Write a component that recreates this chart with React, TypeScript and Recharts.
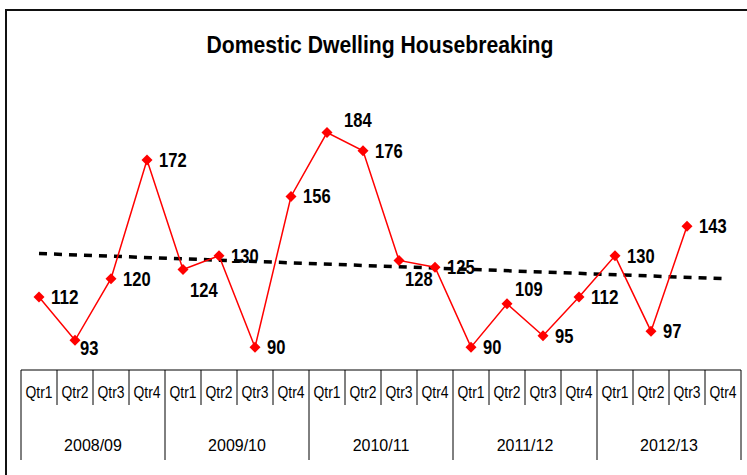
import { LineChart, Line, XAxis, YAxis, LabelList } from 'recharts';

const years = ['2008/09', '2009/10', '2010/11', '2011/12', '2012/13'];
const quarters = ['Qtr1', 'Qtr2', 'Qtr3', 'Qtr4'];

// recorded housebreakings per quarter (last quarter not yet reported)
const housebreakings = [
  112, 93, 120, 172,
  124, 130, 90, 156,
  184, 176, 128, 125,
  90, 109, 95, 112,
  130, 97, 143, null,
];

// linear trend, read at both ends
const trendStart = 131;
const trendEnd = 120;

const chartData = years.flatMap((year, yi) =>
  quarters.map((qtr, qi) => {
    const i = yi * 4 + qi;
    return {
      key: `${year}-${qtr}`,
      qtr,
      year,
      value: housebreakings[i],
      trend: i === 0 ? trendStart : i === years.length * 4 - 1 ? trendEnd : null,
    };
  })
);

// label nudges where the labels were moved by hand
const labelNudge: Record<number, [number, number]> = {
  1: [5, 8],
  4: [7, 20],
  8: [17, -13],
  10: [6, 19],
  13: [8, -15],
};

const arial = '"Liberation Sans", Arial, sans-serif';

function Diamond(props: any) {
  const { cx, cy, index } = props;
  if (cx == null || cy == null || props.value == null) return <g key={index} />;
  const r = 5.5;
  return (
    <polygon
      key={index}
      points={`${cx},${cy - r} ${cx + r},${cy} ${cx},${cy + r} ${cx - r},${cy}`}
      fill="#FF0000"
    />
  );
}

function ValueLabel(props: any) {
  const { x, y, value, index } = props;
  if (value == null) return null;
  const [dx, dy] = labelNudge[index] ?? [12, 0];
  const txt = String(value);
  return (
    <text
      x={x + dx}
      y={y + dy}
      dominantBaseline="central"
      fontFamily={arial}
      fontWeight="bold"
      fontSize={20}
      textLength={txt.length * 9.2}
      lengthAdjust="spacingAndGlyphs"
      fill="#000"
    >
      {txt}
    </text>
  );
}

function CategoryTick(props: any) {
  const { x, y, payload } = props;
  const i = payload.index ?? props.index;
  const half = 18;
  const row = chartData[i];
  const last = i === chartData.length - 1;
  return (
    <g>
      <line
        x1={x - half}
        x2={x - half}
        y1={y}
        y2={i % 4 === 0 ? y + 90 : y + 35}
        stroke="#000"
        strokeWidth={1}
      />
      {last && (
        <line x1={x + half} x2={x + half} y1={y} y2={y + 90} stroke="#000" strokeWidth={1} />
      )}
      <text
        x={x - 13.5}
        y={y + 22}
        dominantBaseline="central"
        fontFamily={arial}
        fontSize={17}
        textLength={27}
        lengthAdjust="spacingAndGlyphs"
        fill="#000"
      >
        {row.qtr}
      </text>
      {i % 4 === 1 && (
        <text
          x={x + half}
          y={y + 75}
          textAnchor="middle"
          dominantBaseline="central"
          fontFamily={arial}
          fontSize={16}
          fill="#000"
        >
          {row.year}
        </text>
      )}
    </g>
  );
}

export default function App() {
  return (
    <div
      style={{
        position: 'absolute',
        left: 0,
        top: 0,
        width: 747,
        height: 475,
        overflow: 'hidden',
        background: '#fff',
      }}
    >
      <div
        style={{
          position: 'absolute',
          left: 5,
          top: 9,
          width: 800,
          height: 600,
          border: '2.5px solid #111',
          boxSizing: 'border-box',
        }}
      />
      <div
        style={{
          position: 'absolute',
          left: 0,
          top: 30,
          width: 760,
          textAlign: 'center',
          fontFamily: arial,
          fontWeight: 'bold',
          fontSize: 23,
          lineHeight: '30px',
          transform: 'scaleX(0.92)',
          color: '#000',
        }}
      >
        Domestic Dwelling Housebreaking
      </div>
      <div style={{ position: 'absolute', left: 0, top: 0 }}>
        <LineChart
          width={747}
          height={475}
          data={chartData}
          margin={{ top: 96, right: 6, bottom: 0, left: 21 }}
        >
          <XAxis
            dataKey="key"
            height={105}
            interval={0}
            padding={{ left: 18, right: 18 }}
            tickLine={false}
            tickSize={0}
            tickMargin={0}
            axisLine={{ stroke: '#000', strokeWidth: 1 }}
            tick={<CategoryTick />}
          />
          <YAxis hide domain={[80, 200]} />
          <Line
            dataKey="trend"
            stroke="#000"
            strokeWidth={3.5}
            strokeDasharray="8 7"
            dot={false}
            connectNulls
            isAnimationActive={false}
          />
          <Line
            dataKey="value"
            stroke="#FF0000"
            strokeWidth={1.5}
            dot={<Diamond />}
            activeDot={false}
            isAnimationActive={false}
          >
            <LabelList dataKey="value" content={<ValueLabel />} />
          </Line>
        </LineChart>
      </div>
    </div>
  );
}
